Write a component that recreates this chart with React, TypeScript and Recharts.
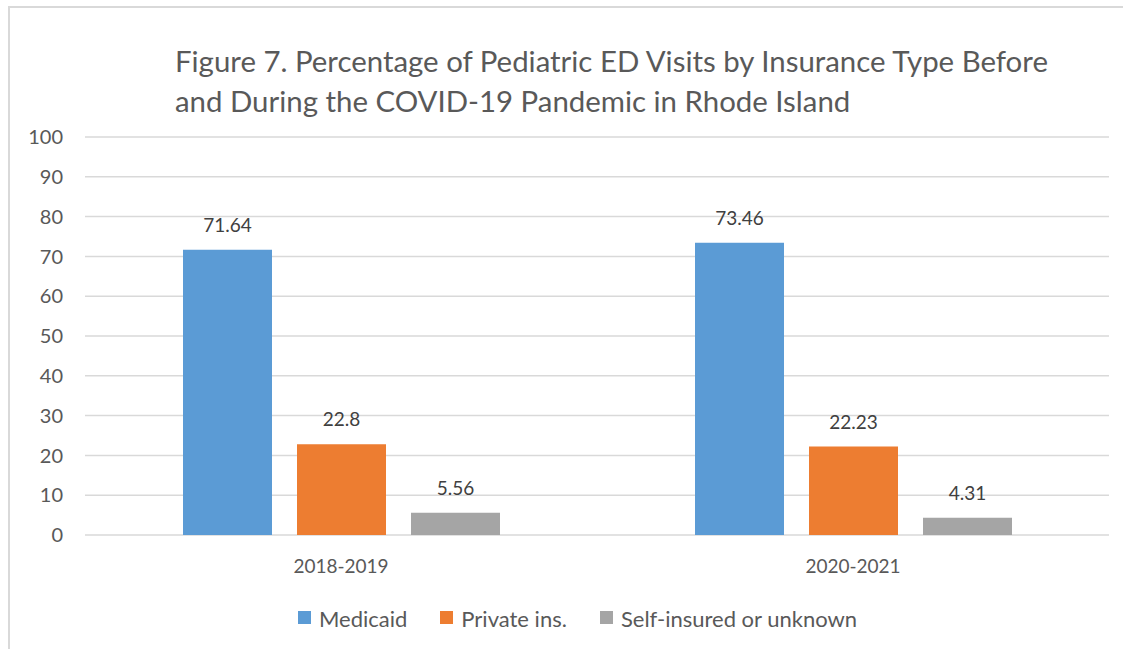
import { BarChart, Bar, XAxis, YAxis, CartesianGrid, LabelList } from "recharts"

const periods = ["2018-2019", "2020-2021"]
const medicaid = [71.64, 73.46]
const privateIns = [22.8, 22.23]
const selfInsured = [5.56, 4.31]
const yTicks = [0, 10, 20, 30, 40, 50, 60, 70, 80, 90, 100]

const series = [
  { key: "medicaid", name: "Medicaid", color: "#5B9BD5" },
  { key: "privateIns", name: "Private ins.", color: "#ED7D31" },
  { key: "selfInsured", name: "Self-insured or unknown", color: "#A5A5A5" },
]

const FONT = "Lato, 'Open Sans', sans-serif"
const TEXT = "#595959"

export default function App() {
  const data = periods.map((p, i) => ({
    period: p,
    medicaid: medicaid[i],
    privateIns: privateIns[i],
    selfInsured: selfInsured[i],
  }))

  return (
    <div
      style={{
        position: "absolute",
        left: 0,
        top: 0,
        width: 1123,
        height: 649,
        background: "#fff",
        overflow: "hidden",
        fontFamily: FONT,
      }}
    >
      {/* chart frame, cut off at right and bottom */}
      <div
        style={{
          position: "absolute",
          left: 8,
          top: 6,
          width: 1200,
          height: 700,
          border: "2px solid #d9d9d9",
        }}
      />
      <div
        style={{
          position: "absolute",
          left: 175,
          top: 41,
          fontSize: 29.4,
          lineHeight: "40px",
          color: TEXT,
          whiteSpace: "nowrap",
        }}
      >
        <div>Figure 7. Percentage of Pediatric ED Visits by Insurance Type Before</div>
        <div>and During the COVID-19 Pandemic in Rhode Island</div>
      </div>
      <div style={{ position: "absolute", left: 0, top: 0 }}>
        <BarChart
          width={1123}
          height={649}
          data={data}
          margin={{ top: 137, right: 14, left: 0, bottom: 84 }}
          barGap={25}
        >
          <CartesianGrid vertical={false} stroke="#d9d9d9" strokeWidth={1.5} />
          <XAxis
            dataKey="period"
            axisLine={false}
            tickLine={false}
            height={30}
            tick={{ fill: TEXT, fontSize: 19, fontFamily: FONT }}
            tickMargin={19}
          />
          <YAxis
            width={85}
            domain={[0, 100]}
            ticks={yTicks}
            axisLine={false}
            tickLine={false}
            tick={{ fill: TEXT, fontSize: 20, fontFamily: FONT }}
            tickMargin={16}
          />
          {series.map((s) => (
            <Bar
              key={s.key}
              dataKey={s.key}
              name={s.name}
              fill={s.color}
              barSize={89}
              isAnimationActive={false}
            >
              <LabelList
                dataKey={s.key}
                position="top"
                offset={18}
                fill="#404040"
                fontSize={19}
                fontFamily={FONT}
              />
            </Bar>
          ))}
        </BarChart>
      </div>
      <div
        style={{
          position: "absolute",
          left: 298,
          top: 606,
          display: "flex",
          gap: 33,
          fontSize: 22,
          lineHeight: "26px",
          color: TEXT,
          whiteSpace: "nowrap",
        }}
      >
        {series.map((s) => (
          <div key={s.key} style={{ display: "flex", alignItems: "center" }}>
            <span
              style={{
                display: "inline-block",
                width: 13,
                height: 13,
                background: s.color,
                marginRight: 8,
                marginTop: -4,
              }}
            />
            <span>{s.name}</span>
          </div>
        ))}
      </div>
    </div>
  )
}
